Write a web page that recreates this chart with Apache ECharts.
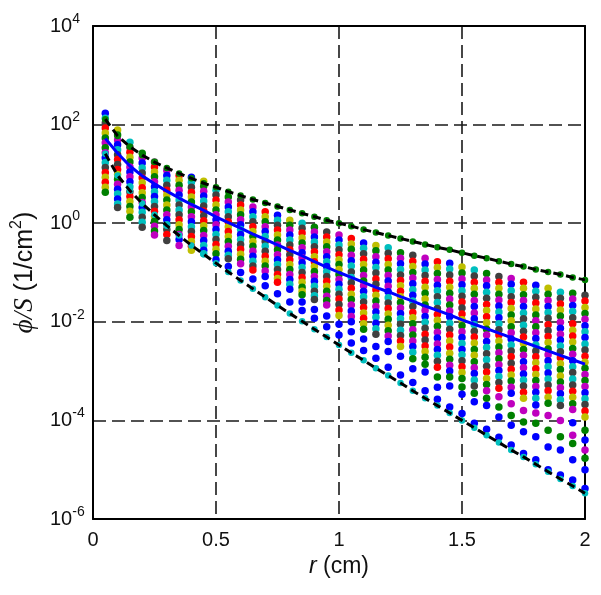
<!DOCTYPE html>
<html><head><meta charset="utf-8">
<script src="https://cdn.jsdelivr.net/npm/echarts@6/dist/echarts.min.js"></script>
<style>html,body{margin:0;padding:0;background:#fff}#chart{width:601px;height:595px}</style>
</head><body><div id="chart"></div>
<script>
// radial distance r (cm) of each column of points
const radii = [0.05,0.10,0.15,0.20,0.25,0.30,0.35,0.40,0.45,0.50,0.55,0.60,0.65,0.70,0.75,0.80,0.85,0.90,0.95,1.00,
               1.05,1.10,1.15,1.20,1.25,1.30,1.35,1.40,1.45,1.50,1.55,1.60,1.65,1.70,1.75,1.80,1.85,1.90,1.95,2.00];
// log10(phi/S) of the upper bound (green dots + dashed line)
const upperLog = [2.11,1.77,1.55,1.38,1.24,1.12,1.01,0.91,0.81,0.73,0.64,0.56,0.48,0.41,0.34,0.27,0.20,0.13,0.06,0.00,
                  -0.06,-0.13,-0.19,-0.25,-0.31,-0.37,-0.43,-0.49,-0.54,-0.60,-0.66,-0.71,-0.77,-0.83,-0.88,-0.94,-0.99,-1.04,-1.10,-1.15];
// log10(phi/S) of the lower bound (cyan dots + dashed line)
const lowerLog = [1.41,0.97,0.66,0.40,0.17,-0.05,-0.25,-0.45,-0.63,-0.81,-0.99,-1.16,-1.33,-1.50,-1.67,-1.83,-1.99,-2.15,-2.31,-2.47,
                  -2.63,-2.78,-2.94,-3.09,-3.24,-3.40,-3.55,-3.70,-3.85,-4.00,-4.15,-4.30,-4.45,-4.60,-4.74,-4.89,-5.04,-5.19,-5.33,-5.48];
// log10(phi/S) of the mean curve (blue)
const meanLog = [1.72,1.42,1.16,0.96,0.80,0.65,0.51,0.38,0.26,0.13,0.01,-0.10,-0.22,-0.33,-0.44,-0.55,-0.66,-0.78,-0.89,-1.00,
                 -1.10,-1.20,-1.30,-1.39,-1.49,-1.58,-1.68,-1.77,-1.86,-1.96,-2.05,-2.14,-2.23,-2.32,-2.41,-2.50,-2.59,-2.68,-2.77,-2.86];
// log10(phi/S) of the densely packed sample points in each column (top to bottom)
const columnDense = [
[2.23,2.13,2.03,1.93,1.83,1.73,1.63,1.53,1.43,1.33,1.23,1.13,1.03,0.93,0.83,0.73,0.63],
[1.89,1.79,1.69,1.59,1.49,1.39,1.29,1.19,1.09,0.99,0.89,0.79,0.69,0.59,0.49,0.39,0.32],
[1.64,1.54,1.44,1.34,1.24,1.14,1.04,0.94,0.84,0.74,0.64,0.54,0.44,0.34,0.24,0.12],
[1.42,1.32,1.22,1.12,1.02,0.92,0.82,0.72,0.62,0.52,0.42,0.32,0.22,0.12,0.02,-0.08],
[1.24,1.14,1.04,0.94,0.84,0.74,0.64,0.54,0.44,0.34,0.24,0.14,0.04,-0.06,-0.16,-0.24],
[1.07,0.97,0.87,0.77,0.67,0.57,0.47,0.37,0.27,0.17,0.07,-0.03,-0.13,-0.23,-0.35],
[0.97,0.87,0.77,0.67,0.57,0.47,0.37,0.27,0.17,0.07,-0.03,-0.13,-0.23,-0.33,-0.45],
[0.93,0.83,0.73,0.63,0.53,0.43,0.33,0.23,0.13,0.03,-0.07,-0.17,-0.27,-0.37,-0.47,-0.55],
[0.85,0.75,0.65,0.55,0.45,0.35,0.25,0.15,0.05,-0.05,-0.15,-0.25,-0.35,-0.45,-0.55,-0.62],
[0.67,0.57,0.47,0.37,0.27,0.17,0.07,-0.03,-0.13,-0.23,-0.33,-0.43,-0.53,-0.62],
[0.53,0.43,0.33,0.23,0.13,0.03,-0.07,-0.17,-0.27,-0.37,-0.47,-0.57,-0.65,-0.72],
[0.47,0.37,0.27,0.17,0.07,-0.03,-0.13,-0.23,-0.33,-0.43,-0.53,-0.63,-0.73,-0.82],
[0.33,0.23,0.13,0.03,-0.07,-0.17,-0.27,-0.37,-0.47,-0.57,-0.67,-0.77,-0.87,-0.95],
[0.23,0.13,0.03,-0.07,-0.17,-0.27,-0.37,-0.47,-0.57,-0.67,-0.77,-0.87,-0.97,-1.08],
[0.16,0.06,-0.04,-0.14,-0.24,-0.34,-0.44,-0.54,-0.64,-0.74,-0.84,-0.94,-1.04,-1.12,-1.20],
[0.06,-0.04,-0.14,-0.24,-0.34,-0.44,-0.54,-0.64,-0.74,-0.84,-0.94,-1.04,-1.14,-1.24,-1.34],
[0.00,-0.10,-0.20,-0.30,-0.40,-0.50,-0.60,-0.70,-0.80,-0.90,-1.00,-1.10,-1.20,-1.30,-1.38,-1.45],
[-0.08,-0.18,-0.28,-0.38,-0.48,-0.58,-0.68,-0.78,-0.88,-0.98,-1.08,-1.18,-1.28,-1.38,-1.47,-1.55],
[-0.18,-0.28,-0.38,-0.48,-0.58,-0.68,-0.78,-0.88,-0.98,-1.08,-1.18,-1.28,-1.38,-1.48,-1.57,-1.66],
[-0.24,-0.34,-0.44,-0.54,-0.64,-0.74,-0.84,-0.94,-1.04,-1.14,-1.24,-1.34,-1.44,-1.54,-1.65,-1.76,-1.87],
[-0.31,-0.42,-0.53,-0.65,-0.76,-0.87,-0.99,-1.10,-1.21,-1.32,-1.44,-1.55,-1.66,-1.78,-1.89,-2.00],
[-0.40,-0.51,-0.62,-0.73,-0.84,-0.95,-1.06,-1.17,-1.27,-1.38,-1.49,-1.60,-1.71,-1.82,-1.93,-2.04,-2.15],
[-0.45,-0.56,-0.68,-0.79,-0.90,-1.01,-1.13,-1.24,-1.35,-1.46,-1.58,-1.69,-1.80,-1.91,-2.03,-2.14,-2.25],
[-0.50,-0.61,-0.72,-0.84,-0.95,-1.06,-1.17,-1.28,-1.39,-1.51,-1.62,-1.73,-1.84,-1.95,-2.07,-2.18,-2.29,-2.40],
[-0.60,-0.71,-0.82,-0.94,-1.05,-1.16,-1.27,-1.38,-1.49,-1.61,-1.72,-1.83,-1.94,-2.05,-2.17,-2.28,-2.39,-2.50],
[-0.65,-0.77,-0.88,-1.00,-1.11,-1.23,-1.35,-1.46,-1.58,-1.69,-1.81,-1.92,-2.04,-2.16,-2.27,-2.39,-2.50,-2.62],
[-0.71,-0.83,-0.95,-1.06,-1.18,-1.30,-1.42,-1.54,-1.66,-1.77,-1.89,-2.01,-2.13,-2.25,-2.37,-2.49,-2.60,-2.72],
[-0.78,-0.90,-1.02,-1.14,-1.26,-1.37,-1.49,-1.61,-1.73,-1.85,-1.97,-2.09,-2.21,-2.33,-2.45,-2.56,-2.68,-2.80,-2.92],
[-0.81,-0.93,-1.05,-1.18,-1.30,-1.42,-1.54,-1.66,-1.78,-1.90,-2.03,-2.15,-2.27,-2.39,-2.51,-2.64,-2.76,-2.88,-3.00],
[-0.89,-1.01,-1.13,-1.25,-1.37,-1.48,-1.60,-1.72,-1.84,-1.96,-2.08,-2.20,-2.32,-2.44,-2.56,-2.67,-2.79,-2.91,-3.03,-3.15],
[-0.95,-1.07,-1.20,-1.32,-1.44,-1.57,-1.69,-1.82,-1.94,-2.06,-2.19,-2.31,-2.43,-2.56,-2.68,-2.81,-2.93,-3.05,-3.18,-3.30],
[-1.02,-1.15,-1.27,-1.40,-1.52,-1.65,-1.77,-1.90,-2.02,-2.15,-2.27,-2.40,-2.52,-2.65,-2.77,-2.90,-3.02,-3.15,-3.27,-3.40],
[-1.08,-1.20,-1.32,-1.44,-1.56,-1.68,-1.80,-1.92,-2.04,-2.16,-2.27,-2.39,-2.51,-2.63,-2.75,-2.87,-2.99,-3.11,-3.23,-3.35],
[-1.12,-1.24,-1.37,-1.49,-1.61,-1.73,-1.86,-1.98,-2.10,-2.22,-2.35,-2.47,-2.59,-2.71,-2.84,-2.96,-3.08,-3.20,-3.33,-3.45],
[-1.20,-1.32,-1.45,-1.57,-1.69,-1.82,-1.94,-2.07,-2.19,-2.31,-2.44,-2.56,-2.68,-2.81,-2.93,-3.06,-3.18,-3.30,-3.43,-3.55],
[-1.26,-1.38,-1.50,-1.62,-1.74,-1.86,-1.98,-2.10,-2.22,-2.34,-2.47,-2.59,-2.71,-2.83,-2.95,-3.07,-3.19,-3.31,-3.43,-3.55],
[-1.32,-1.44,-1.57,-1.69,-1.81,-1.93,-2.06,-2.18,-2.30,-2.42,-2.55,-2.67,-2.79,-2.91,-3.04,-3.16,-3.28,-3.40,-3.53,-3.65],
[-1.40,-1.52,-1.64,-1.76,-1.88,-2.01,-2.13,-2.25,-2.37,-2.49,-2.61,-2.73,-2.85,-2.97,-3.10,-3.22,-3.34,-3.46,-3.58,-3.70],
[-1.42,-1.54,-1.67,-1.79,-1.92,-2.04,-2.17,-2.29,-2.41,-2.54,-2.66,-2.79,-2.91,-3.03,-3.16,-3.28,-3.41,-3.53,-3.66,-3.78],
[-1.46,-1.58,-1.71,-1.83,-1.95,-2.08,-2.20,-2.32,-2.45,-2.57,-2.70,-2.82,-2.94,-3.07,-3.19,-3.31,-3.44,-3.56,-3.68,-3.81,-3.93]
];
// log10(phi/S) of the sparse sample points below each dense column (top to bottom)
const columnTail = [
[],[],[],[],[],[],[],[],[],
[-0.74],[-0.88],[-1.00],[-1.13],[-1.27],[-1.43],[-1.60],
[-1.60,-1.77],[-1.75,-1.93],[-1.88,-2.10],[-2.05,-2.27],[-2.20,-2.43],[-2.35,-2.58],[-2.50,-2.74],[-2.60,-2.92],[-2.70,-3.08],
[-2.75,-2.95,-3.23],[-2.86,-3.02,-3.40],[-3.12,-3.33,-3.57],[-3.12,-3.30,-3.73],[-3.32,-3.47,-3.86],[-3.45,-3.62,-4.06],
[-3.55,-3.70,-4.18],[-3.52,-3.73,-3.93,-4.34],[-3.66,-3.90,-4.10,-4.50],[-3.80,-4.03,-4.23,-4.67],[-3.69,-3.85,-4.06,-4.33,-4.80],
[-3.90,-4.20,-4.54,-5.00],[-4.00,-4.33,-4.60,-5.11],[-4.05,-4.30,-4.47,-4.80,-5.21],[-4.20,-4.40,-4.60,-4.77,-5.00,-5.38]
];

const palette = {b:'#0000ff', g:'#008000', r:'#ff0000', c:'#00bfbf', m:'#bf00bf', y:'#bfbf00', k:'#404040'};
const denseOrder = ['b','g','r','c','m','y','k'];
const tailOrder = ['b','b','g','m','b','g','m'];
const pow10 = v => Math.pow(10, v);

const samplePoints = [];
radii.forEach((r, j) => {
  columnDense[j].forEach((v, i) => {
    const key = denseOrder[(i * 3 + j * 5 + Math.floor(i / 7)) % 7];
    samplePoints.push({value: [r, pow10(v)], itemStyle: {color: palette[key]}});
  });
  const t = columnTail[j];
  t.forEach((v, i) => {
    const key = tailOrder[t.length - 1 - i];
    samplePoints.push({value: [r, pow10(v)], itemStyle: {color: palette[key]}});
  });
});
const pairs = arr => radii.map((r, j) => [r, pow10(arr[j])]);

const FONT = "'Liberation Sans', Arial, sans-serif";
const SERIF = "'Liberation Serif', 'DejaVu Serif', serif";
const TXT = '#111';
const gridDash = {color: '#1a1a1a', width: 1.6, type: [13, 6]};

const chart = echarts.init(document.getElementById('chart'), null, {renderer: 'canvas'});
chart.setOption({
  animation: false,
  backgroundColor: '#fff',
  grid: {left: 93, right: 16, top: 26, bottom: 76, containLabel: false, outerBoundsMode: 'none'},
  xAxis: [{
    type: 'value', min: 0, max: 2, interval: 0.5, position: 'bottom',
    axisLine: {show: true, onZero: false, lineStyle: {color: '#000', width: 2}},
    axisTick: {show: false},
    axisLabel: {fontSize: 20, color: TXT, fontFamily: FONT, margin: 11},
    splitLine: {show: true, lineStyle: gridDash},
    name: '{i|r} (cm)', nameLocation: 'middle', nameGap: 33,
    nameTextStyle: {fontSize: 23, color: TXT, fontFamily: FONT,
      rich: {i: {fontSize: 23, color: TXT, fontFamily: FONT, fontStyle: 'italic'}}}
  }, {
    type: 'value', min: 0, max: 2, position: 'top',
    axisLine: {show: true, onZero: false, lineStyle: {color: '#000', width: 2}},
    axisTick: {show: false}, axisLabel: {show: false}, splitLine: {show: false}
  }],
  yAxis: [{
    type: 'log', logBase: 10, min: 1e-6, max: 1e4, interval: 2,
    axisLine: {show: true, onZero: false, lineStyle: {color: '#000', width: 2}},
    axisTick: {show: false},
    axisLabel: {
      align: 'left', margin: 43,
      formatter: v => '{b|10}{s|' + Math.round(Math.log10(v)) + '}',
      rich: {
        b: {fontSize: 20, color: TXT, fontFamily: FONT, lineHeight: 28},
        s: {fontSize: 14, color: TXT, fontFamily: FONT, lineHeight: 16, verticalAlign: 'top'}
      }
    },
    splitLine: {show: true, lineStyle: gridDash},
    name: '{i|\u03D5/S} (1/cm{s|2})', nameLocation: 'middle', nameGap: 52, nameRotate: 90,
    nameTextStyle: {fontSize: 25, color: TXT, fontFamily: FONT,
      rich: {
        i: {fontSize: 27, color: TXT, fontFamily: SERIF, fontStyle: 'italic', lineHeight: 32},
        s: {fontSize: 16, color: TXT, fontFamily: FONT, lineHeight: 18, verticalAlign: 'top'}
      }}
  }, {
    type: 'log', logBase: 10, min: 1e-6, max: 1e4, position: 'right',
    axisLine: {show: true, onZero: false, lineStyle: {color: '#000', width: 2}},
    axisTick: {show: false}, axisLabel: {show: false}, splitLine: {show: false}
  }],
  series: [
    {type: 'scatter', name: 'samples', data: samplePoints, symbolSize: 7.5, z: 2, silent: true,
     itemStyle: {opacity: 1}},
    {type: 'scatter', name: 'upper', data: pairs(upperLog), symbolSize: 6.5, z: 3, silent: true,
     itemStyle: {color: palette.g, opacity: 1}},
    {type: 'scatter', name: 'lower', data: pairs(lowerLog), symbolSize: 6.5, z: 3, silent: true,
     itemStyle: {color: palette.c, opacity: 1}},
    {type: 'line', name: 'upperBound', data: pairs(upperLog), showSymbol: false, z: 4, silent: true,
     lineStyle: {color: '#000', width: 3, type: [8, 5]}},
    {type: 'line', name: 'lowerBound', data: pairs(lowerLog), showSymbol: false, z: 4, silent: true,
     lineStyle: {color: '#000', width: 3, type: [8, 5]}},
    {type: 'line', name: 'mean', data: pairs(meanLog), showSymbol: false, z: 5, silent: true,
     lineStyle: {color: '#0000ff', width: 3}}
  ]
});
</script>
</body></html>
